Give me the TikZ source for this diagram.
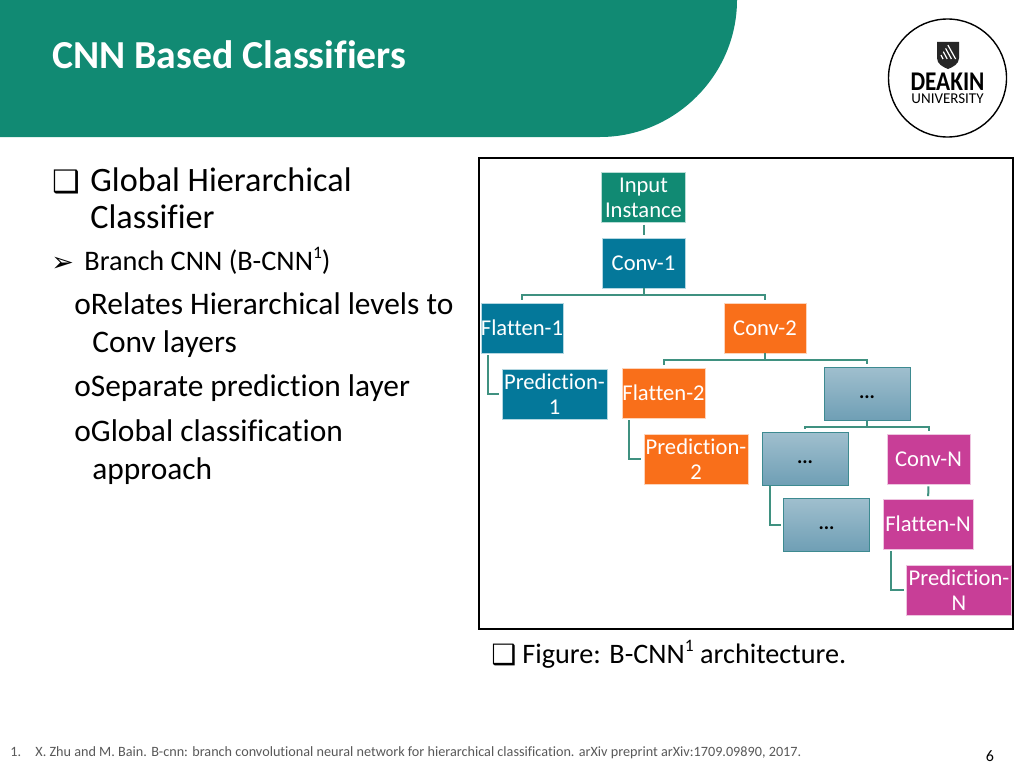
\documentclass[tikz,border=0pt]{standalone}
\usepackage{graphicx}
\usepackage{fontspec}
\setmainfont[Ligatures=NoCommon]{Carlito}
\newfontfamily\symfont{DejaVu Sans}
\definecolor{deakingreen}{HTML}{118A73}
\definecolor{linkgreen}{HTML}{3F9180}
\definecolor{convblue}{HTML}{04789A}
\definecolor{convorange}{HTML}{F96F1A}
\definecolor{convpink}{HTML}{C83E97}
\definecolor{dotstop}{HTML}{A0BFCE}
\definecolor{dotsbot}{HTML}{6F9FB5}
\definecolor{dotsline}{HTML}{3D8A90}
\definecolor{footgray}{HTML}{595959}
\newcommand{\smallsup}[1]{\raisebox{0.42em}{\fontsize{0.62em}{1em}\selectfont #1}}
\newcommand{\lowdots}{\smash{\raisebox{-5pt}{...}}}
\begin{document}
\begin{tikzpicture}[x=1pt,y=-1pt,
                      thick,
                      layer node/.style={draw=white!70!#1,fill=#1,text=white,line width=0.6pt,inner sep=0pt,
                      minimum height=50pt,align=center,font=\fontsize{22.6}{25}\selectfont},
                      dots node/.style={draw=dotsline,line width=1pt,top color=dotstop,bottom color=dotsbot,
                      inner sep=0pt,minimum width=86pt,minimum height=53pt,font=\fontsize{20}{25}\selectfont\bfseries},
                      link/.style={draw=linkgreen,line width=2pt,shorten >=2.5pt},
                      head text/.style={anchor=north west,align=left,inner sep=0pt,font=\fontsize{34.2}{37.5}\selectfont},
                      body text/.style={anchor=north west,align=left,inner sep=0pt,font=\fontsize{31.4}{38}\selectfont},
                      sub text/.style={anchor=north west,align=left,inner sep=0pt,font=\fontsize{28.3}{30}\selectfont}
                     ]
   \useasboundingbox (0,0) rectangle (1024,768);
   % header
   \fill[white] (0,0) rectangle (1024,768);
   \fill[deakingreen] (0,0) -- (737,0) .. controls (737,75) and (675,137) .. (600,137) -- (0,137) -- cycle;
   \node[anchor=base west,inner sep=0pt,text=white,font=\fontsize{39.7}{42}\selectfont\bfseries] (title) at (52,68) {CNN Based Classifiers};
   % logo
   \node[circle,draw=black,line width=1.4pt,minimum size=118pt,inner sep=0pt] (logo) at (947.5,78) {};
   \fill[black!85] (937,42) -- (959,42) -- (959,58) .. controls (959,64) and (953,67) .. (948,69) .. controls (943,67) and (937,64) .. (937,58) -- cycle;
   \foreach \i in {0,1,2,3}
     \draw[white,line width=1.2pt] (943+\i*4.2,59) -- (941+\i*2.3,55-\i*3.3);
   \node[anchor=base,inner sep=0pt,font=\fontsize{27}{30}\selectfont\bfseries] (deakin) at (947.5,90) {\scalebox{0.86}[1]{DEAKIN}};
   \node[anchor=base,inner sep=0pt,font=\fontsize{15}{15}\selectfont] (university) at (947.5,103.5) {UNIVERSITY};
   % left text
   \node[inner sep=0pt,anchor=base west,font=\fontsize{31}{34}\selectfont\symfont] (bullet1) at (52,192) {❑};
   \node[head text] (global) at (90,167) {Global Hierarchical\\Classifier};
   \node[inner sep=0pt,anchor=base west,font=\fontsize{27}{30}\selectfont\symfont] (bullet2) at (51,271) {➢};
   \node[sub text] (branch) at (84,247) {Branch CNN (B-CNN\smallsup{1})};
   \node[body text] (relates) at (74,292) {oRelates Hierarchical levels to\\\hspace{18pt}Conv layers};
   \node[body text] (separate) at (74,374) {oSeparate prediction layer};
   \node[body text] (approach) at (74,419) {oGlobal classification\\\hspace{18pt}approach};
   % frame
   \draw[black,line width=1.3pt] (479,158) rectangle (1013,629);
   \node[inner sep=0pt,anchor=base west,font=\fontsize{28}{30}\selectfont\symfont] (bullet3) at (491,664) {❑};
   \node[sub text,font=\fontsize{28.2}{32}\selectfont] (caption) at (522,640) {Figure: B-CNN\smallsup{1} architecture.};
   % layers
   \node[layer node=deakingreen,minimum width=84pt] (input) at (643.5,197.5) {Input\\Instance};
   \node[layer node=convblue,minimum width=83pt] (conv1) at (643.5,263) {Conv-1};
   \node[layer node=convblue,minimum width=82pt] (flatten1) at (522,328) {Flatten-1};
   \node[layer node=convorange,minimum width=82pt] (conv2) at (765,328) {Conv-2};
   \node[layer node=convblue,minimum width=105pt] (pred1) at (554.5,394) {Prediction-\\1};
   \node[layer node=convorange,minimum width=83pt] (flatten2) at (663.5,393) {Flatten-2};
   \node[dots node] (dots1) at (867,393.5) {\lowdots};
   \node[layer node=convorange,minimum width=104pt] (pred2) at (696,459) {Prediction-\\2};
   \node[dots node] (dots2) at (805,458.5) {\lowdots};
   \node[layer node=convpink,minimum width=83pt] (convn) at (928.5,459) {Conv-N};
   \node[dots node] (dots3) at (826.5,524.5) {\lowdots};
   \node[layer node=convpink,minimum width=90pt] (flattenn) at (928,524) {Flatten-N};
   \node[layer node=convpink,minimum width=105pt] (predn) at (959,590) {Prediction-\\N};
   % connectors
   \path[link,shorten <=2pt]%
     (input) edge (conv1)
     (convn) edge (flattenn);
   \draw[link] (conv1.south) -- ++(0,7) -| (flatten1.north);
   \draw[link] (conv1.south) -- ++(0,7) -| (conv2.north);
   \draw[link] (conv2.south) -- ++(0,7) -| (flatten2.north);
   \draw[link] (conv2.south) -- ++(0,7) -| (dots1.north);
   \draw[link] (dots1.south) -- ++(0,6) -| (dots2.north);
   \draw[link] (dots1.south) -- ++(0,6) -| (convn.north);
   \draw[link,shorten <=2pt] ([xshift=7pt]flatten1.south west) |- (pred1.west);
   \draw[link,shorten <=2pt] ([xshift=7pt]flatten2.south west) |- (pred2.west);
   \draw[link] ([xshift=8pt]dots2.south west) |- (dots3.west);
   \draw[link,shorten <=2pt] ([xshift=8pt]flattenn.south west) |- (predn.west);
   % footer
   \node[anchor=base west,inner sep=0pt,text=footgray,font=\fontsize{14.2}{16}\selectfont] (footnum) at (10,756) {1.};
   \node[anchor=base west,inner sep=0pt,text=footgray,font=\fontsize{14.2}{16}\selectfont] (footnote) at (35,756) {X. Zhu and M. Bain. B-cnn: branch convolutional neural network for hierarchical classification. arXiv preprint arXiv:1709.09890, 2017.};
   \node[anchor=base,inner sep=0pt,font=\fontsize{16}{19}\selectfont] (pagenum) at (990,761) {6};
\end{tikzpicture}
\end{document}
